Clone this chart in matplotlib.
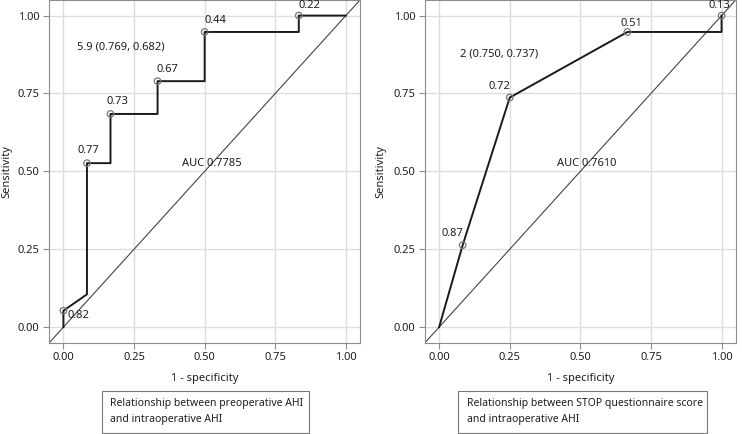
import matplotlib
matplotlib.use("Agg")
import matplotlib.pyplot as plt
from matplotlib.patches import Rectangle

plt.rcParams['font.family'] = ['Noto Sans', 'DejaVu Sans']

# Left panel: preoperative AHI ROC
left_fpr = [0.0, 0.0, 1/12, 1/12, 2/12, 2/12, 4/12, 4/12, 6/12, 6/12, 10/12, 10/12, 1.0]
left_tpr = [0.0, 1/19, 2/19, 10/19, 10/19, 13/19, 13/19, 15/19, 15/19, 18/19, 18/19, 1.0, 1.0]
left_pt_x = [0.0, 1/12, 2/12, 4/12, 6/12, 10/12]
left_pt_y = [1/19, 10/19, 13/19, 15/19, 18/19, 1.0]
left_pt_lab = ["0.82", "0.77", "0.73", "0.67", "0.44", "0.22"]
left_lab_off = [(15, -5), (1, 13), (7, 12), (10, 12), (11, 11), (11, 10)]
left_cut = "5.9 (0.769, 0.682)"
left_auc = "AUC 0.7785"
left_caption = "Relationship between preoperative AHI\nand intraoperative AHI"

# Right panel: STOP questionnaire ROC
right_fpr = [0.0, 1/12, 3/12, 8/12, 1.0, 1.0]
right_tpr = [0.0, 5/19, 14/19, 18/19, 18/19, 1.0]
right_pt_x = [1/12, 3/12, 8/12, 1.0]
right_pt_y = [5/19, 14/19, 18/19, 1.0]
right_pt_lab = ["0.87", "0.72", "0.51", "0.13"]
right_lab_off = [(-10, 12), (-10, 11), (4, 8), (-2, 10)]
right_cut = "2 (0.750, 0.737)"
right_auc = "AUC 0.7610"
right_caption = "Relationship between STOP questionnaire score\nand intraoperative AHI"

ticks = [0.0, 0.25, 0.5, 0.75, 1.0]
tick_labels = ["0.00", "0.25", "0.50", "0.75", "1.00"]

W, H = 742, 434
fig = plt.figure(figsize=(W/100, H/100), dpi=100)

TXT = '#1e1e1e'
FS = 8
PX = 0.72  # points per pixel at dpi 100

def panel(rect, fx, fy, px, py, plab, poff, cut, cut_xy, auc, auc_xy, ylab_x):
    ax = fig.add_axes(rect)
    ax.set_xlim(-0.05, 1.05)
    ax.set_ylim(-0.05, 1.05)
    ax.set_xticks(ticks)
    ax.set_xticklabels(tick_labels)
    ax.set_yticks(ticks)
    ax.set_yticklabels(tick_labels)
    ax.grid(True, color='#dddddd', linewidth=1.0)
    ax.set_axisbelow(True)
    for s in ax.spines.values():
        s.set_color('#8c8c8c')
        s.set_linewidth(0.8)
    ax.tick_params(colors='#8c8c8c', labelcolor=TXT, labelsize=FS, length=4, width=0.8, pad=3)
    ax.plot([-0.05, 1.05], [-0.05, 1.05], color='#444444', linewidth=0.8, zorder=2)
    ax.plot(fx, fy, color='#1a1a1a', linewidth=1.4, zorder=3)
    ax.scatter(px, py, s=22, facecolors='none', edgecolors='#777777', linewidths=0.9, zorder=4)
    for x, y, t, (dx, dy) in zip(px, py, plab, poff):
        ax.annotate(t, (x, y), xytext=(dx*PX, dy*PX), textcoords='offset points',
                    ha='center', va='center', fontsize=FS, color=TXT, zorder=5)
    ax.text(cut_xy[0], cut_xy[1], cut, fontsize=FS, color=TXT, ha='left', va='center')
    ax.text(auc_xy[0], auc_xy[1], auc, fontsize=FS, color=TXT, ha='left', va='center')
    ax.set_xlabel("1 - specificity", fontsize=FS, color=TXT, labelpad=7)
    ax.set_ylabel("Sensitivity", fontsize=FS, color=TXT)
    ax.yaxis.set_label_coords(ylab_x, 0.5)
    return ax

axL = panel([49.3/W, (H-342.7)/H, (360-49.3)/W, 342.7/H],
            left_fpr, left_tpr, left_pt_x, left_pt_y, left_pt_lab, left_lab_off,
            left_cut, (0.047, 0.899), left_auc, (0.421, 0.526), -0.118)
axR = panel([425/W, (H-342.7)/H, (735.7-425)/W, 342.7/H],
            right_fpr, right_tpr, right_pt_x, right_pt_y, right_pt_lab, right_lab_off,
            right_cut, (0.074, 0.877), right_auc, (0.417, 0.526), -0.125)

def caption(x0, x1, y0, y1, tx, text):
    fig.patches.append(Rectangle((x0/W, 1-y1/H), (x1-x0)/W, (y1-y0)/H,
                                 transform=fig.transFigure, fill=False,
                                 edgecolor='#777777', linewidth=0.8))
    fig.text(tx/W, 1-((y0+y1)/2)/H, text, fontsize=7.5, color=TXT,
             ha='left', va='center', linespacing=1.55)

caption(102, 309.3, 390.7, 432.7, 110.3, left_caption)
caption(458.3, 707.3, 390.7, 432.7, 466.7, right_caption)

fig.savefig("out.png", dpi=100)
